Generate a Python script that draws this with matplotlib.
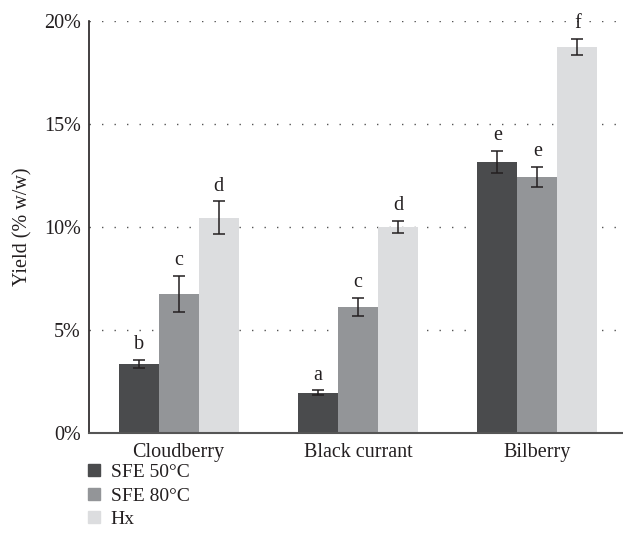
import matplotlib.pyplot as plt
import numpy as np
from matplotlib.lines import Line2D

plt.rcParams['font.family'] = 'serif'
plt.rcParams['font.serif'] = ['Liberation Serif', 'DejaVu Serif']

berries = ['Cloudberry', 'Black currant', 'Bilberry']
series = ['SFE 50°C', 'SFE 80°C', 'Hx']
sfe50 = [3.35, 1.96, 13.16]
sfe80 = [6.76, 6.12, 12.43]
hx = [10.44, 10.0, 18.75]
sfe50_err = [0.2, 0.11, 0.53]
sfe80_err = [0.88, 0.44, 0.5]
hx_err = [0.8, 0.3, 0.4]
sfe50_let = ['b', 'a', 'e']
sfe80_let = ['c', 'c', 'e']
hx_let = ['d', 'd', 'f']

colors = ['#4a4b4d', '#939598', '#dcdddf']
ink = '#231f20'

fig = plt.figure(figsize=(6.23, 5.59), dpi=100)
ax = fig.add_axes([89 / 623, 1 - 433 / 559, 538 / 623, (433 - 21) / 559])

x = np.arange(len(berries))
w = 0.223
vals = [sfe50, sfe80, hx]
errs = [sfe50_err, sfe80_err, hx_err]
lets = [sfe50_let, sfe80_let, hx_let]

for i in range(3):
    pos = x + (i - 1) * w
    ax.bar(pos, vals[i], w, color=colors[i], zorder=2)
    ax.errorbar(pos, vals[i], yerr=errs[i], fmt='none', ecolor=ink,
                elinewidth=1.1, capsize=4.5, capthick=1.1, zorder=3)
    for p, v, e, l in zip(pos, vals[i], errs[i], lets[i]):
        ax.annotate(l, (p, v + e), xytext=(0, 4), textcoords='offset points',
                    ha='center', va='bottom', fontsize=14.5, color=ink)

ax.set_xlim(-0.5, 2.5)
ax.set_ylim(0, 20)
ax.set_yticks([0, 5, 10, 15, 20])
ax.set_yticklabels(['0%', '5%', '10%', '15%', '20%'])
ax.set_xticks(x)
ax.set_xticklabels(berries)
ax.tick_params(axis='y', length=0, labelsize=14.5, colors=ink, pad=6)
ax.tick_params(axis='x', length=0, labelsize=14.5, colors=ink, pad=7)
ax.yaxis.grid(True, linestyle=(0, (1, 8)), color='#555555', linewidth=1.0, zorder=1)
ax.set_axisbelow(True)
for s in ['top', 'right']:
    ax.spines[s].set_visible(False)
ax.spines['left'].set_color(ink)
ax.spines['bottom'].set_color('#555555')
ax.spines['left'].set_linewidth(1.2)
ax.spines['bottom'].set_linewidth(1.5)
ax.set_ylabel('Yield (% w/w)', fontsize=14.5, color=ink, labelpad=8)

handles = [Line2D([], [], marker='s', linestyle='none', markersize=8,
                  markerfacecolor=c, markeredgecolor=c) for c in colors]
fig.legend(handles, series, loc='upper left', bbox_to_anchor=(67 / 623, 1 - 446 / 559),
           frameon=False, fontsize=14, handletextpad=0.35, labelspacing=0.3,
           handlelength=1.0, labelcolor=ink)

fig.savefig('out.png', dpi=100)
